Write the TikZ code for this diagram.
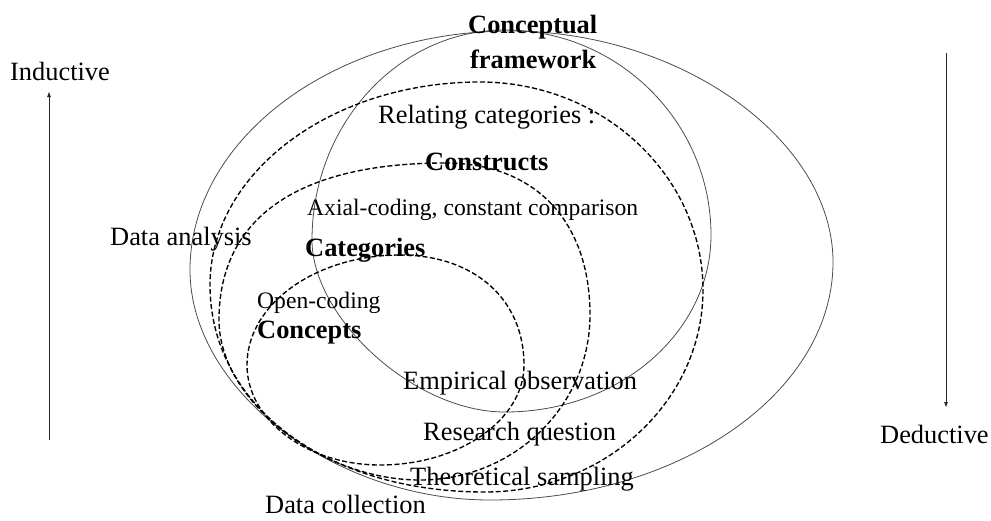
\documentclass[tikz,border=0pt]{standalone}
\usepackage{fontspec}
\setmainfont{Liberation Serif}
\usetikzlibrary{arrows.meta}
\begin{document}
\begin{tikzpicture}[x=1pt,y=-1pt,
  solidring/.style={draw=black!70, line width=0.8pt},
  dashring/.style={draw=black, line width=1.35pt, dash pattern=on 5pt off 2.5pt},
  lbl/.style={anchor=base west, inner sep=0pt, font=\fontsize{26.4}{30}\selectfont},
  blbl/.style={lbl, font=\fontsize{26.4}{30}\selectfont\bfseries},
  slbl/.style={lbl, font=\fontsize{23.6}{28}\selectfont},
  dirarrow/.style={draw=black!85, line width=0.8pt, -{Triangle[length=5pt,width=3.5pt]}}
]
\useasboundingbox (0,0) rectangle (991,520);

% outer solid ring: whole conceptual framework
\draw[solidring] (510,31)
  .. controls (681,31) and (833,140) .. (833,262)
  .. controls (833,393) and (679,500) .. (490,500)
  .. controls (334,500) and (190,390) .. (190,270)
  .. controls (190,139) and (334,31) .. (510,31) -- cycle;

% inner solid ring
\draw[solidring] (505,30)
  .. controls (618,30) and (711,122) .. (711,235)
  .. controls (711,332) and (620,412) .. (505,412)
  .. controls (413,412) and (312,317) .. (312,240)
  .. controls (312,124) and (399,30) .. (505,30) -- cycle;

% dashed ring: relating categories
\draw[dashring] (480,82)
  .. controls (603,82) and (703,176) .. (703,290)
  .. controls (703,401) and (605,492) .. (485,492)
  .. controls (325,492) and (210,405) .. (210,285)
  .. controls (210,173) and (331,82) .. (480,82) -- cycle;

% dashed ring: constructs
\draw[dashring] (445,163)
  .. controls (535,163) and (590,221) .. (590,315)
  .. controls (590,406) and (514,480) .. (420,480)
  .. controls (320,480) and (219,400) .. (219,320)
  .. controls (219,218) and (298,163) .. (445,163) -- cycle;

% dashed ring: categories
\draw[dashring] (400,255)
  .. controls (474,255) and (524,299) .. (524,365)
  .. controls (524,420) and (459,465) .. (380,465)
  .. controls (307,465) and (247,420) .. (247,365)
  .. controls (247,304) and (316,255) .. (400,255) -- cycle;

% direction arrows
\coordinate (indlow) at (49,440);
\coordinate (indhigh) at (49,92);
\coordinate (dedhigh) at (946,53);
\coordinate (dedlow) at (946,407);
\draw[dirarrow] (indlow) -- (indhigh);
\draw[dirarrow] (dedhigh) -- (dedlow);

% labels
\node[lbl]  (inductive) at (10,80)   {Inductive};
\node[lbl]  (deductive) at (880,443) {Deductive};
\node[blbl] (concept)   at (468,33)  {Conceptual};
\node[blbl] (framework) at (470,68)  {framework};
\node[lbl]  (relating)  at (378,123) {Relating categories :};
\node[blbl] (constructs) at (425,170) {Constructs};
\node[slbl] (axial)     at (307,215) {Axial-coding, constant comparison};
\node[lbl]  (analysis)  at (110,245) {Data analysis};
\node[blbl] (categories) at (305,256) {Categories};
\node[slbl] (opencoding) at (257,308) {Open-coding};
\node[blbl] (concepts)  at (257,338) {Concepts};
\node[lbl]  (empirical) at (403,389) {Empirical observation};
\node[lbl]  (research)  at (423,440) {Research question};
\node[lbl]  (sampling)  at (410,485) {Theoretical sampling};
\node[lbl]  (collection) at (265,513) {Data collection};
\end{tikzpicture}
\end{document}
